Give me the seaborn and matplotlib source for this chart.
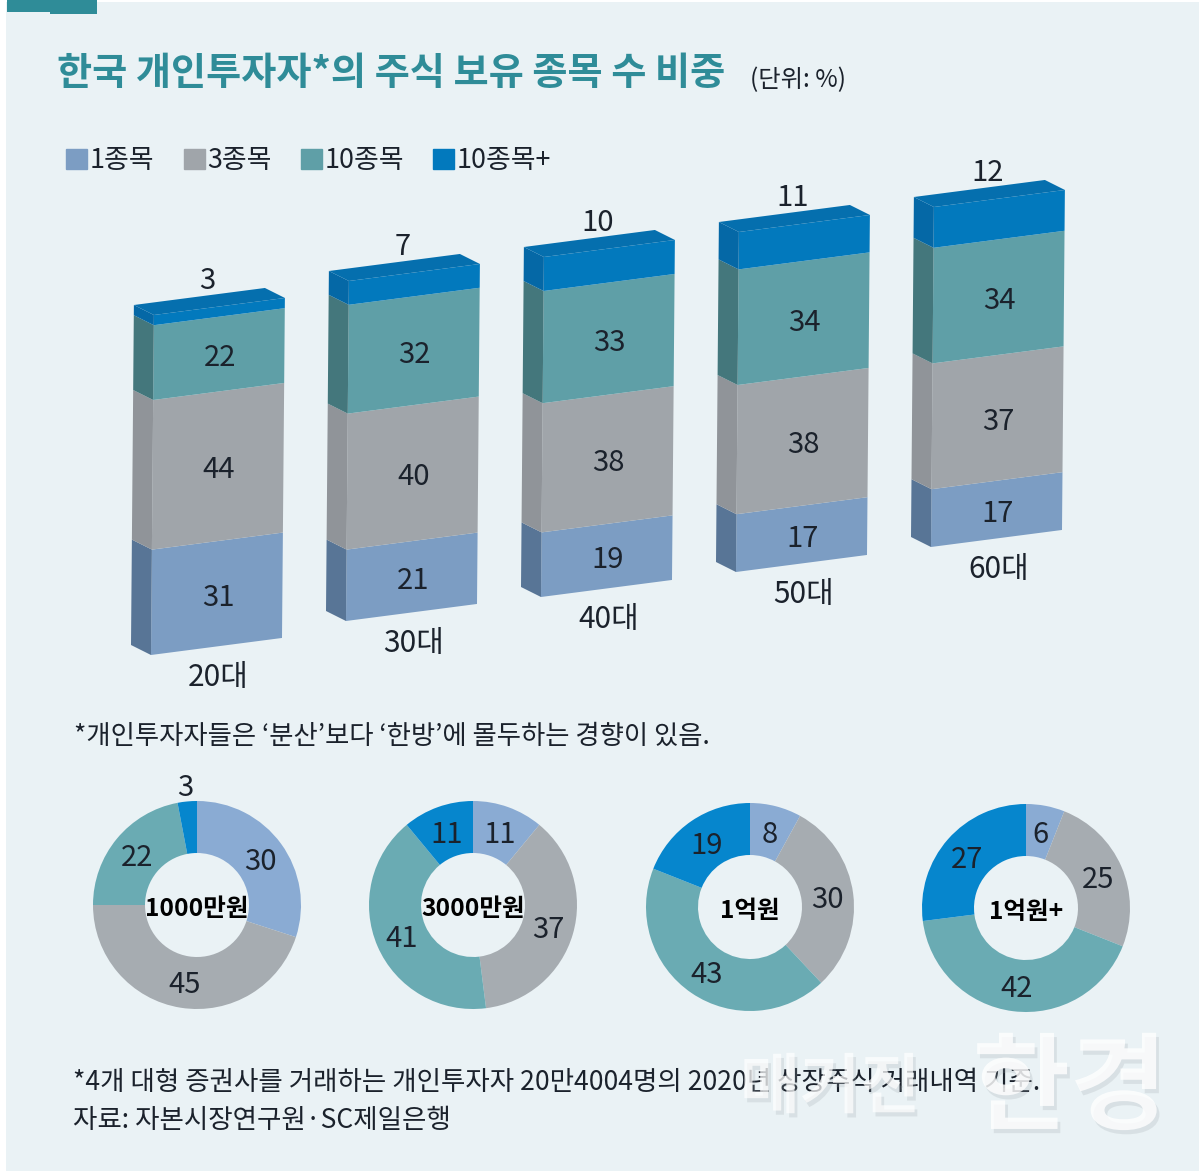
import matplotlib
matplotlib.use("Agg")
import matplotlib.pyplot as plt
import matplotlib.patheffects as pe
import seaborn as sns
import numpy as np
from matplotlib.patches import Patch, Polygon, Rectangle
from matplotlib.transforms import Affine2D, IdentityTransform

# data
ages = ["20대", "30대", "40대", "50대", "60대"]
series_names = ["1종목", "3종목", "10종목", "10종목+"]
one_stock = [31, 21, 19, 17, 17]
three_stock = [44, 40, 38, 38, 37]
ten_stock = [22, 32, 33, 34, 34]
ten_plus = [3, 7, 10, 11, 12]

donut_names = ["1000만원", "3000만원", "1억원", "1억원+"]
donut_1000 = [30, 45, 22, 3]
donut_3000 = [11, 37, 41, 11]
donut_1eok = [8, 30, 43, 19]
donut_1eok_plus = [6, 25, 42, 27]

# colours
front = ["#7c9dc3", "#a0a5aa", "#5f9fa7", "#0279bd"]
side = ["#587596", "#909499", "#44777c", "#0568a6"]
top_colour = "#056fae"
ring = ["#8aabd3", "#a6acb1", "#6aabb3", "#0686cd"]
bg_colour = "#eaf2f5"
teal = "#2f8c98"
ink = "#1b222c"

W, H = 1204, 1175
sns.set_theme(style="white")
plt.rcParams["font.family"] = ["Noto Sans CJK KR", "DejaVu Sans"]

fig = plt.figure(figsize=(W / 100, H / 100), dpi=100, facecolor="white")

# page layer in pixel units, for the texts and the background
page = fig.add_axes([0, 0, 1, 1], zorder=0)
page.set_xlim(0, W)
page.set_ylim(H, 0)
page.axis("off")
page.add_patch(Rectangle((6, 2), 1193, 1169, color=bg_colour, lw=0))
page.add_patch(Rectangle((7, 0), 44, 12, color=teal, lw=0))
page.add_patch(Rectangle((50, 0), 47, 14, color=teal, lw=0))

# layer above the marks, for numbers and the watermark
over = fig.add_axes([0, 0, 1, 1], zorder=5)
over.set_xlim(0, W)
over.set_ylim(H, 0)
over.axis("off")

page.text(57, 74, "한국 개인투자자*의 주식 보유 종목 수 비중", color=teal, fontsize=27.5,
          fontweight="bold", va="center")
page.text(750, 80, "(단위: %)", color=ink, fontsize=17.5, va="center")

legend = page.legend(handles=[Patch(color=c, label=n) for c, n in zip(front, series_names)],
                     loc="center left", bbox_to_anchor=(42, 161), bbox_transform=page.transData,
                     ncols=4, frameon=False, fontsize=19.4, handlelength=0.78, handleheight=0.78,
                     handletextpad=0.1, columnspacing=1.08, labelcolor=ink)

# stacked bars: plain seaborn bars, then sheared to fake the perspective
BASE_Y = H - 655
bars = fig.add_axes([119 / W, BASE_Y / H, 975 / W, 340 / H], zorder=1)
bottom = np.zeros(len(ages))
stacks = [one_stock, three_stock, ten_stock, ten_plus]
for vals, c in zip(stacks, front):
    sns.barplot(x=ages, y=vals, bottom=bottom, color=c, saturation=1, width=131 / 195,
                ax=bars, legend=False, linewidth=0)
    bottom = bottom + np.array(vals)
bars.set_xlim(-0.5, 4.5)
bars.set_ylim(0, 100)
bars.axis("off")

SKEW_Y = 0.13
SKEW_X = 0.0085
DEPTH_X, DEPTH_Y = -20, 10
lift = [0, 34, 58, 83, 108]


def skew_for(i):
    left = bars.transData.transform((i - 131 / 390, 0))[0]
    return Affine2D(np.array([[1, SKEW_X, -SKEW_X * BASE_Y],
                              [SKEW_Y, 1, -SKEW_Y * left + lift[i]],
                              [0, 0, 1]]))


def to_px(i, x, y):
    return skew_for(i).transform(bars.transData.transform((x, y)))


def page_label(xy, text, dx=0, dy=0, **kw):
    # display position to page pixels
    over.text(xy[0] + dx, H - xy[1] + dy, text, ha="center", va="center", color=ink, **kw)


half = 131 / 390
for i in range(len(ages)):
    base = 0
    for s, vals in enumerate(stacks):
        rect = bars.containers[s][i]
        rect.set_transform(bars.transData + skew_for(i))
        rect.set_clip_on(False)
        low = to_px(i, i - half, base)
        high = to_px(i, i - half, base + vals[i])
        offset = np.array([DEPTH_X, DEPTH_Y])
        bars.add_patch(Polygon([low, high, high + offset, low + offset], closed=True,
                               color=side[s], lw=0, transform=IdentityTransform(),
                               clip_on=False, zorder=3))
        centre = to_px(i, i, base + vals[i] / 2)
        if s < 3:
            page_label(centre, str(vals[i]), dx=1, dy=4, fontsize=21)
        base += vals[i]
    # top face and the number on top
    a = to_px(i, i - half, 100)
    b = to_px(i, i + half, 100)
    bars.add_patch(Polygon([a, b, b + offset, a + offset], closed=True, color=top_colour, lw=0,
                           transform=IdentityTransform(), clip_on=False, zorder=3))
    page_label(to_px(i, i, 100), str(ten_plus[i]), dx=-12, dy=-25, fontsize=21)
    page_label(to_px(i, i, 0), ages[i], dx=2, dy=31, fontsize=21.5)

# donuts
donuts = [donut_1000, donut_3000, donut_1eok, donut_1eok_plus]
centres = [(197, 905), (473, 905), (750, 907), (1026, 908)]
RADIUS = 104
for vals, name, (cx, cy) in zip(donuts, donut_names, centres):
    size = RADIUS * 2.6
    ax = fig.add_axes([(cx - size / 2) / W, (H - cy - size / 2) / H, size / W, size / H], zorder=1)
    wedges, labels = ax.pie(vals, colors=ring, startangle=90, counterclock=False, radius=1,
                            labels=[str(v) for v in vals], labeldistance=0.75,
                            wedgeprops={"width": 0.5, "linewidth": 0},
                            textprops={"fontsize": 21, "color": ink})
    for lab, v in zip(labels, vals):
        lab.set_ha("center")
        lab.set_va("center")
        x, y = lab.get_position()
        if v < 5:  # too thin, sits outside the ring
            x, y = x * 1.55, y * 1.55
        lab.set_position((x, y - 0.03))
    ax.set_xlim(-1.3, 1.3)
    ax.set_ylim(-1.3, 1.3)
    ax.text(0, -0.04, name, ha="center", va="center", color="black", fontsize=17.7,
            fontweight="bold")

# notes
page.text(74, 736, "*개인투자자들은 ‘분산’보다 ‘한방’에 몰두하는 경향이 있음.", color=ink, fontsize=19,
          va="center")
page.text(73, 1083, "*4개 대형 증권사를 거래하는 개인투자자 20만4004명의 2020년 상장주식 거래내역 기준.",
          color=ink, fontsize=19.1, va="center")
page.text(73, 1121, "자료: 자본시장연구원·SC제일은행", color=ink, fontsize=19.1, va="center")

# watermark sits over the note text
shadow = [pe.withSimplePatchShadow(offset=(2, -3), shadow_rgbFace="#9aa4a8", alpha=0.22)]
over.text(830, 1088, "매거진", color="white", alpha=0.7, fontsize=47, fontweight="bold",
          ha="center", va="center", path_effects=shadow)
over.text(1070, 1090, "한경", color="white", alpha=0.8, fontsize=76, fontweight="bold",
          ha="center", va="center", path_effects=shadow)

fig.savefig("out.png", dpi=100, facecolor=fig.get_facecolor())
